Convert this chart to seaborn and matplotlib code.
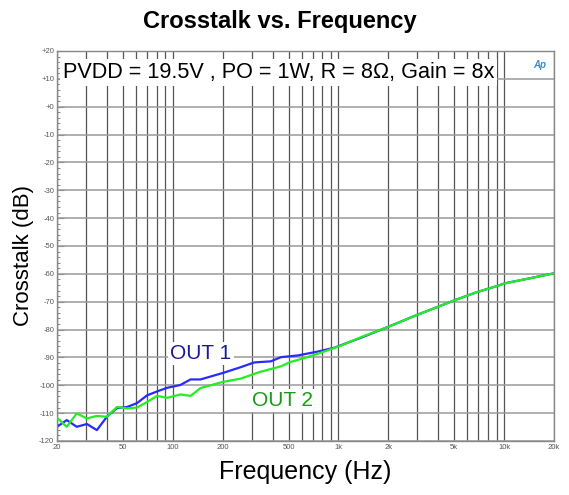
import matplotlib
matplotlib.use("Agg")
import matplotlib.pyplot as plt
import matplotlib.ticker as mticker
import numpy as np
import pandas as pd
import seaborn as sns

# values
freq_1 = [20, 22.9, 26.3, 30.3, 34.8, 40, 46, 52.9, 60.8, 70, 80.4, 92.5, 111, 128, 147,
          200, 257, 310, 391, 450, 568, 750, 946, 1372, 2000, 2965, 4000, 5060, 6830,
          9020, 10100, 14300, 20000]
db_1 = [-114.9, -112.5, -114.9, -113.9, -116.1, -111.3, -108.2, -107.8, -106.4, -103.6,
        -102.2, -100.9, -99.9, -97.9, -97.9, -95.6, -93.5, -91.8, -91.4, -89.9, -89.3,
        -87.9, -86.5, -82.9, -79.0, -74.8, -71.8, -69.4, -66.6, -64.4, -63.4, -61.6, -59.8]

freq_2 = [20, 22.9, 26.3, 30.3, 34.8, 40, 46, 52.9, 60.8, 70, 80.4, 92.5, 111, 128, 147,
          200, 257, 336, 450, 510, 640, 820, 1040, 1372, 2000, 2965, 4000, 5060, 6830,
          9020, 10100, 14300, 20000]
db_2 = [-111.7, -114.9, -110.1, -111.9, -111.0, -111.3, -107.8, -108.3, -108.0, -106.0,
        -103.8, -104.5, -103.3, -103.8, -101.0, -98.8, -97.6, -95.2, -93.2, -91.7, -90.0,
        -87.9, -85.7, -82.7, -79.0, -74.8, -71.8, -69.4, -66.6, -64.4, -63.4, -61.6, -59.8]

x_ticks = [20, 50, 100, 200, 500, 1000, 2000, 5000, 10000, 20000]
x_ticklabels = ["20", "50", "100", "200", "500", "1k", "2k", "5k", "10k", "20k"]
y_ticks = list(range(20, -130, -10))
y_ticklabels = ["+20", "+10", "+0"] + [str(v) for v in y_ticks[3:]]

df1 = pd.DataFrame({"Frequency": freq_1, "dB": db_1})
df2 = pd.DataFrame({"Frequency": freq_2, "dB": db_2})

sns.set_style("white")
plt.rcParams["font.family"] = ["Liberation Sans", "DejaVu Sans"]
plt.rcParams["text.color"] = "black"
plt.rcParams["axes.labelcolor"] = "black"

fig = plt.figure(figsize=(5.69, 4.95), dpi=100)
ax = fig.add_axes([0.1002, 0.1091, 0.8734, 0.7879])

ax.set_xscale("log")
ax.set_xlim(20, 20000)
ax.set_ylim(-120, 20)

# grid
vgrid = [m * 10 ** e for e in range(1, 5) for m in range(1, 10)]
vgrid = [v for v in vgrid if 20 <= v <= 20000]
for v in vgrid:
    ax.axvline(v, color="#555555", lw=0.9, zorder=1)
for h in y_ticks:
    ax.axhline(h, color="#9a9a9a", lw=1.1, zorder=1)

sns.lineplot(data=df2, x="Frequency", y="dB", ax=ax, color="#22ee22", lw=1.6, zorder=3)
sns.lineplot(data=df1, x="Frequency", y="dB", ax=ax, color="#2a2aff", lw=1.6, zorder=2)

ax.xaxis.set_major_locator(mticker.FixedLocator(x_ticks))
ax.xaxis.set_minor_locator(mticker.NullLocator())
ax.set_xticklabels(x_ticklabels)
ax.set_yticks(y_ticks)
ax.set_yticklabels(y_ticklabels)
ax.yaxis.set_minor_locator(mticker.MultipleLocator(2))
ax.tick_params(axis="both", which="major", labelsize=5.5, labelcolor="#555555", pad=2)
ax.tick_params(axis="y", which="major", direction="in", length=5, color="#777777", left=True)
ax.tick_params(axis="y", which="minor", direction="in", length=2.5, color="#777777", left=True)
ax.tick_params(axis="x", which="major", length=0)

for s in ax.spines.values():
    s.set_color("#888888")
    s.set_linewidth(1.0)

ax.set_xlabel("Frequency (Hz)", fontsize=18)
ax.set_ylabel("Crosstalk (dB)", fontsize=16)
ax.xaxis.set_label_coords(0.499, -0.05)
ax.yaxis.set_label_coords(-0.046, 0.475)
fig.suptitle("Crosstalk vs. Frequency", fontsize=17, fontweight="bold", color="black",
             x=0.492, y=0.98)

ax.text(0.012, 0.945, "PVDD = 19.5V , PO = 1W, R = 8\u03a9, Gain = 8x", transform=ax.transAxes,
        fontsize=15.6, va="center", ha="left", zorder=5,
        bbox=dict(facecolor="white", edgecolor="none", pad=2.0))
ax.text(148, -88.5, "OUT 1", fontsize=15, color="#1a1a99", ha="center", va="center", zorder=5,
        bbox=dict(facecolor="white", edgecolor="none", pad=1.5))
ax.text(460, -105.5, "OUT 2", fontsize=15, color="#1a9a1a", ha="center", va="center", zorder=5,
        bbox=dict(facecolor="white", edgecolor="none", pad=1.5))
ax.text(0.985, 0.965, "Ap", transform=ax.transAxes, fontsize=7, color="#3a8fd0",
        fontweight="bold", style="italic", ha="right", va="center", zorder=5)

fig.savefig("out.png", dpi=100)
